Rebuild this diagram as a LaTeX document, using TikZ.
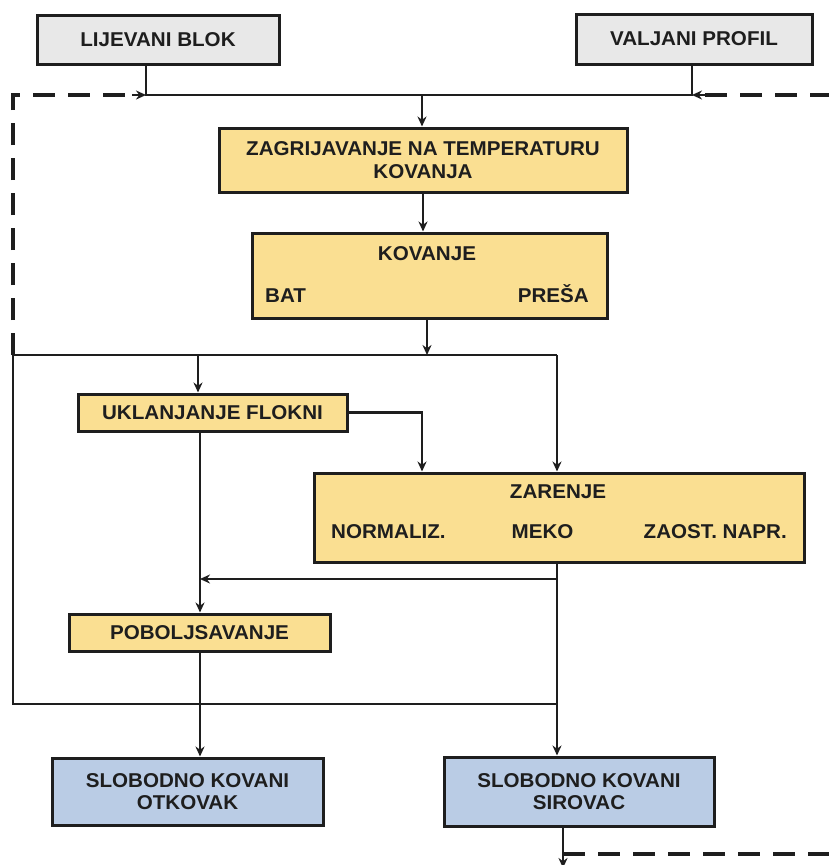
\documentclass[tikz,border=0pt]{standalone}
\usepackage{fontspec}
\setmainfont{Liberation Sans}[FakeStretch=1.03]
\usetikzlibrary{arrows.meta}
\definecolor{boxY}{RGB}{250,223,146}
\definecolor{boxG}{RGB}{232,232,232}
\definecolor{boxB}{RGB}{186,204,229}
\definecolor{ink}{RGB}{30,30,30}
\tikzset{
  box/.style={draw=ink, line width=3pt, inner sep=0pt, align=center, text=ink,
    font=\fontsize{20}{22.5}\selectfont\bfseries},
  ybox/.style={box, fill=boxY},
  gbox/.style={box, fill=boxG},
  bbox/.style={box, fill=boxB},
  lbl/.style={inner sep=0pt, text=ink, font=\fontsize{20}{22.5}\selectfont\bfseries},
  conn/.style={draw=ink, line width=2.2pt},
  arr/.style={conn, -{Stealth[length=10pt,width=9pt]}},
  dline/.style={draw=ink, line width=3.2pt, dash pattern=on 22pt off 13pt},
}
\begin{document}
\begin{tikzpicture}[x=1pt,y=-1pt]
\useasboundingbox (0,0) rectangle (829,865);
\fill[white] (0,0) rectangle (829,865);

% boxes
\node[gbox, minimum width=242, minimum height=49] (lb) at (158,39.5) {LIJEVANI BLOK};
\node[gbox, minimum width=236, minimum height=50] (vp) at (694,39) {VALJANI PROFIL};
\node[ybox, minimum width=408, minimum height=64] (zag) at (423,160) {ZAGRIJAVANJE NA TEMPERATURU\\KOVANJA};
\node[ybox, minimum width=355, minimum height=85] (kov) at (429.5,275.5) {};
\node[lbl, anchor=base] (kovt) at (427,260) {KOVANJE};
\node[lbl, anchor=base west] (bat) at (265,302) {BAT};
\node[lbl, anchor=base east] (presa) at (589,302) {PREŠA};
\node[ybox, minimum width=269, minimum height=37] (ukl) at (212.5,412.5) {UKLANJANJE FLOKNI};
\node[ybox, minimum width=490, minimum height=89] (zar) at (559,517.5) {};
\node[lbl, anchor=base] (zart) at (558,498) {ZARENJE};
\node[lbl, anchor=base west] (norm) at (331,538) {NORMALIZ.};
\node[lbl, anchor=base] (meko) at (542.5,538) {MEKO};
\node[lbl, anchor=base east] (zaost) at (787,538) {ZAOST. NAPR.};
\node[ybox, minimum width=261, minimum height=37] (pob) at (199.5,632.5) {POBOLJSAVANJE};
\node[bbox, minimum width=271, minimum height=67] (otk) at (187.5,791.5) {SLOBODNO KOVANI\\OTKOVAK};
\node[bbox, minimum width=270, minimum height=69] (sir) at (579,791.5) {SLOBODNO KOVANI\\SIROVAC};

% junction coordinates
\coordinate (jL) at (146,95);
\coordinate (jM) at (422,95);
\coordinate (jR) at (692,95);
\coordinate (dTL) at (13,95);
\coordinate (dTR) at (832,95);
\coordinate (bL) at (13,355);
\coordinate (bU) at (198,355);
\coordinate (bK) at (427,355);
\coordinate (bR) at (557,355);
\coordinate (uz) at (422,412.5);
\coordinate (zj) at (557,579);
\coordinate (pj) at (200,579);
\coordinate (lL) at (13,704);
\coordinate (lR) at (557,704);
\coordinate (sb) at (563,854);
\coordinate (sbR) at (832,854);
\coordinate (sbD) at (563,868);

% top collector
\draw[conn] (lb.south -| jL) -- (jL) -- (jR) -- (vp.south -| jR);
\draw[arr] (jM) -- (zag.north -| jM);
\draw[arr] (zag.south -| 423,0) -- (kov.north -| 423,0);
\draw[arr] (kov.south -| bK) -- (bK);

% dashed return lines
\draw[dline] (bL) -- (dTL) -- ([xshift=-10pt]jL);
\draw[arr] ([xshift=-14pt]jL) -- (jL);
\draw[dline] (dTR) -- ([xshift=10pt]jR);
\draw[arr] ([xshift=14pt]jR) -- (jR);

% distribution bus
\draw[conn] (bL) -- (bR);
\draw[arr] (bR) -- (zar.north -| bR);
\draw[arr] (bU) -- (ukl.north -| bU);
\draw[arr] (ukl.east) -- (uz) -- (zar.north -| uz);
\draw[conn] (bL) -- (lL) -- (lR);

% after ZARENJE
\draw[conn] (zar.south -| zj) -- (zj);
\draw[arr] (zj) -- (pj);
\draw[arr] (zj) -- (sir.north -| zj);

% left column
\draw[arr] (ukl.south -| pj) -- (pob.north -| pj);
\draw[arr] (pob.south -| pj) -- (otk.north -| pj);

% bottom
\draw[arr] (sir.south -| sb) -- (sbD);
\draw[dline] (sb) -- (sbR);
\end{tikzpicture}
\end{document}
